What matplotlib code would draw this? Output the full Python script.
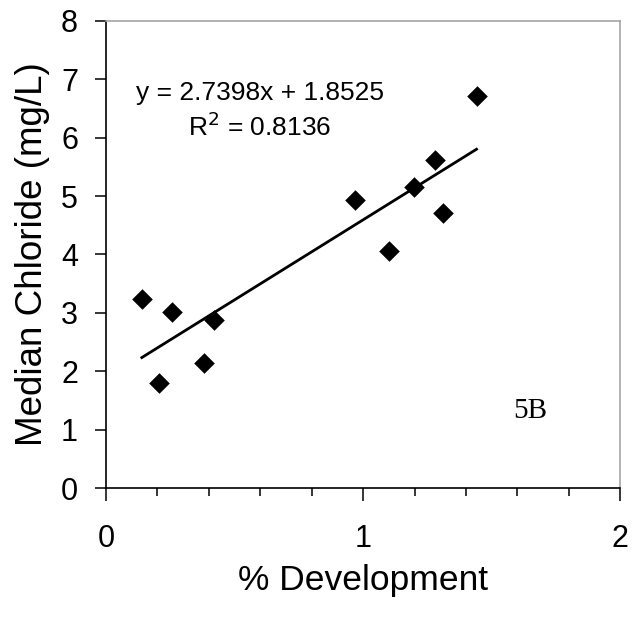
import matplotlib
matplotlib.use("Agg")
import matplotlib.pyplot as plt
import numpy as np
from matplotlib.ticker import MultipleLocator

# Data
pct_development = [0.140, 0.206, 0.257, 0.380, 0.421, 0.970, 1.101, 1.197, 1.280, 1.311, 1.441]
median_chloride = [3.24, 1.80, 3.01, 2.14, 2.88, 4.94, 4.06, 5.16, 5.61, 4.71, 6.71]
slope = 2.7398
intercept = 1.8525
r_squared = 0.8136
x_ticks = [0, 1, 2]
y_ticks = [0, 1, 2, 3, 4, 5, 6, 7, 8]

plt.rcParams['font.family'] = ['Liberation Sans', 'DejaVu Sans']

fig = plt.figure(figsize=(6.34, 6.19), dpi=100)
ax = fig.add_axes([0.1669, 0.2112, 0.9784 - 0.1669, 0.9666 - 0.2112])

ax.scatter(pct_development, median_chloride, marker='D', s=110, color='black', zorder=3, linewidths=0)

xl = np.array([min(pct_development), max(pct_development)])
ax.plot(xl, slope * xl + intercept, color='black', lw=2.0, zorder=2)

ax.set_xlim(0, 2)
ax.set_ylim(0, 8)
ax.set_xticks(x_ticks)
ax.set_yticks(y_ticks)
ax.xaxis.set_minor_locator(MultipleLocator(0.2))

for s in ['left', 'bottom']:
    ax.spines[s].set_color('black')
    ax.spines[s].set_linewidth(1.2)
for s in ['top', 'right']:
    ax.spines[s].set_color('#a6a6a6')
    ax.spines[s].set_linewidth(1.2)

ax.tick_params(axis='y', which='major', direction='out', length=8, width=1.1, labelsize=22, pad=12)
ax.tick_params(axis='x', which='major', direction='out', length=9, width=1.1, labelsize=22, pad=17)
ax.tick_params(axis='x', which='minor', direction='out', length=6, width=1.1)

ax.set_xlabel('% Development', fontsize=25.5, labelpad=7)
ax.set_ylabel('Median Chloride (mg/L)', fontsize=26.5, labelpad=8)

ax.text(0.60, 6.76, 'y = 2.7398x + 1.8525', fontsize=19, ha='center', va='center')
ax.text(0.60, 6.18, 'R$^2$ = 0.8136', fontsize=19, ha='center', va='center')
ax.text(1.649, 1.32, '5B', fontsize=21, ha='center', va='center', family='Liberation Serif')

fig.savefig('out.png', dpi=100)
